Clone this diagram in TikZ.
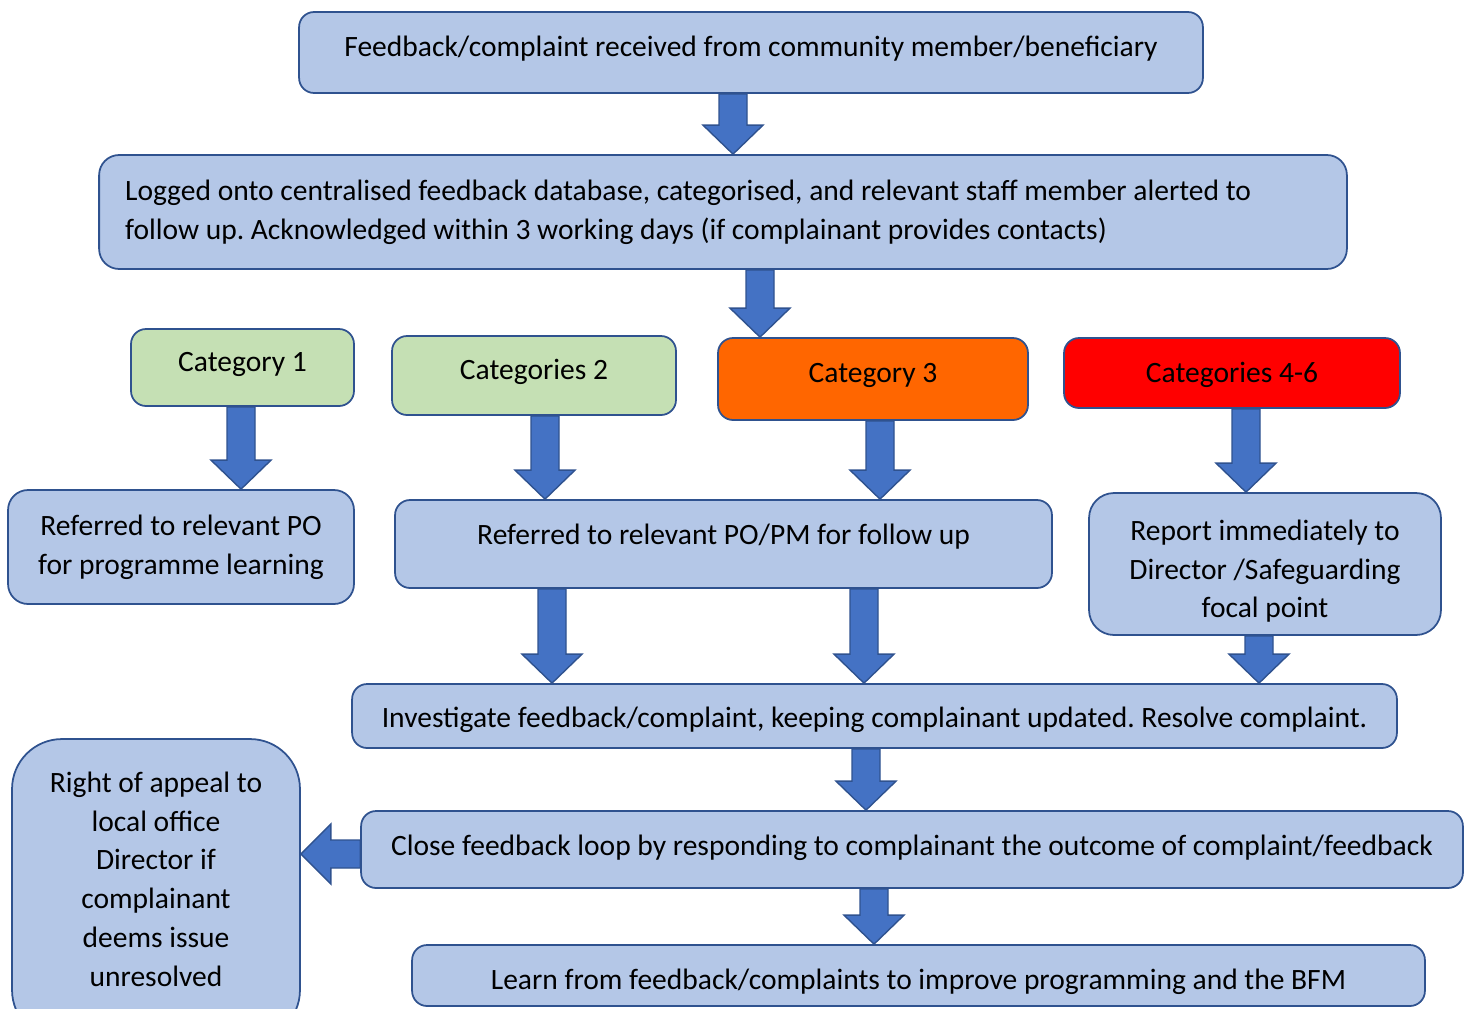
\documentclass[tikz,border=0pt]{standalone}
\usepackage{fontspec}
\setmainfont{Carlito}
\frenchspacing
\usetikzlibrary{calc}
\definecolor{box_blue}{HTML}{B4C7E7}
\definecolor{box_line}{HTML}{2F528F}
\definecolor{arrow_blue}{HTML}{4472C4}
\definecolor{cat_green}{HTML}{C5E0B4}
\definecolor{cat_orange}{HTML}{FF6600}
\definecolor{cat_red}{HTML}{FF0000}

\begin{document}
\begin{tikzpicture}[x=0.02cm, y=-0.02cm, font=\fontsize{16.8}{22.1}\selectfont,
    block_center/.style={rectangle, rounded corners=0.3cm, draw=box_line, line width=1pt,
      fill=box_blue, text centered, inner sep=0pt},
    one_line/.style={text height=12pt, text depth=8pt},
    down_arrow/.style={fill=arrow_blue, draw=box_line, line width=0.8pt,
      to path={let \p1=(\tikztostart.south), \p2=(\tikztotarget.north), \p3=(#1,0) in
        (\x3-0.28cm,\y1) -- (\x3-0.28cm,\y2+0.58cm) -- (\x3-0.6cm,\y2+0.58cm) -- (\x3,\y2)
        -- (\x3+0.6cm,\y2+0.58cm) -- (\x3+0.28cm,\y2+0.58cm) -- (\x3+0.28cm,\y1) -- cycle}},
    left_arrow/.style={fill=arrow_blue, draw=box_line, line width=0.8pt,
      to path={let \p1=(\tikztostart.west), \p2=(\tikztotarget.east), \p3=(0,#1) in
        (\x1,\y3+0.28cm) -- (\x2+0.6cm,\y3+0.28cm) -- (\x2+0.6cm,\y3+0.6cm) -- (\x2,\y3)
        -- (\x2+0.6cm,\y3-0.6cm) -- (\x2+0.6cm,\y3-0.28cm) -- (\x1,\y3-0.28cm) -- cycle}}]
    \useasboundingbox (0,0) rectangle (1469,1008);
    \clip (0,0) rectangle (1469,1008);

    \node[block_center, one_line, minimum width=18.08cm, minimum height=1.62cm] (received) at (751,52.5)
      {Feedback/complaint received from community member/beneficiary};
    \node[block_center, rounded corners=0.4cm, minimum width=24.96cm, minimum height=2.28cm,
      text width=23.92cm, align=flush left] (logged) at (723,212)
      {Logged onto centralised feedback database, categorised, and relevant staff member alerted to\\
       follow up. Acknowledged within 3 working days (if complainant provides contacts)};

    \node[block_center, one_line, fill=cat_green, minimum width=4.46cm, minimum height=1.54cm] (cat1) at (242.5,367.5) {Category 1};
    \node[block_center, one_line, fill=cat_green, minimum width=5.68cm, minimum height=1.58cm] (cat2) at (534,375.5) {Categories 2};
    \node[block_center, one_line, fill=cat_orange, minimum width=6.2cm, minimum height=1.64cm] (cat3) at (873,379) {Category 3};
    \node[block_center, fill=cat_red, text height=15.3pt, text depth=4.7pt, minimum width=6.72cm, minimum height=1.4cm] (cat46) at (1232,373) {Categories 4-6};

    \node[block_center, rounded corners=0.4cm, align=center, minimum width=6.92cm, minimum height=2.28cm] (ref_po) at (181,547)
      {Referred to relevant PO\\for programme learning};
    \node[block_center, text height=10.2pt, text depth=9.8pt, minimum width=13.14cm, minimum height=1.76cm] (ref_pm) at (723.5,544)
      {Referred to relevant PO/PM for follow up};
    \node[block_center, rounded corners=0.5cm, align=center, minimum width=7.04cm, minimum height=2.84cm] (report) at (1265,564)
      {\mbox{}\\[-2.2pt]Report immediately to\\Director /Safeguarding\\focal point};

    \node[block_center, text height=16.4pt, text depth=3.6pt, minimum width=20.9cm, minimum height=1.28cm] (investigate) at (874.5,716)
      {Investigate feedback/complaint, keeping complainant updated. Resolve complaint.};
    \node[block_center, text height=13.3pt, text depth=6.7pt, minimum width=22.04cm, minimum height=1.54cm] (close) at (912,849.5)
      {Close feedback loop by responding to complainant the outcome of complaint/feedback};
    \node[block_center, text height=17.9pt, text depth=2.1pt, minimum width=20.26cm, minimum height=1.22cm] (learn) at (918.5,975.5)
      {Learn from feedback/complaints to improve programming and the BFM};
    \node[block_center, rounded corners=1cm, align=center, minimum width=5.76cm, minimum height=6.02cm] (appeal) at (156,889.5)
      {Right of appeal to\\local office\\Director if\\complainant\\deems issue\\unresolved\\[-10.3pt]\mbox{}};

    \draw[down_arrow=733] (received) to (logged);
    \draw[down_arrow=760] (logged) to (cat3);
    \draw[down_arrow=241] (cat1) to (ref_po);
    \draw[down_arrow=545] (cat2) to (ref_pm);
    \draw[down_arrow=880] (cat3) to (ref_pm);
    \draw[down_arrow=1246] (cat46) to (report);
    \draw[down_arrow=552] (ref_pm) to (investigate);
    \draw[down_arrow=864] (ref_pm) to (investigate);
    \draw[down_arrow=1259] (report) to (investigate);
    \draw[down_arrow=866] (investigate) to (close);
    \draw[down_arrow=874] (close) to (learn);
    \draw[left_arrow=854] (close) to (appeal);
\end{tikzpicture}
\end{document}
